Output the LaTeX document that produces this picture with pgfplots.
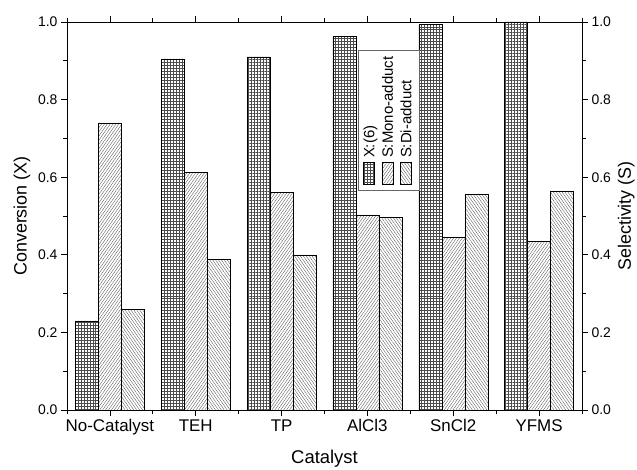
\documentclass[border=0pt]{standalone}
\usepackage{pgfplots}
\pgfplotsset{compat=1.18}
\usepackage{fontspec}
\setmainfont{Liberation Sans}
\usetikzlibrary{patterns.meta}

\pgfplotstableread{
x conv mono di
0 0.230 0.740 0.260
1 0.905 0.612 0.388
2 0.910 0.560 0.400
3 0.962 0.503 0.497
4 0.993 0.445 0.555
5 1.000 0.435 0.565
}\datatable

\tikzset{
  patX/.style={pattern={Hatch[distance=3pt, line width=0.3pt]}, pattern color=black!70},
  patM/.style={pattern={Lines[angle=55, distance=2.4pt, line width=0.3pt]}, pattern color=black!75},
  patD/.style={pattern={Lines[angle=-55, distance=2.4pt, line width=0.3pt]}, pattern color=black!75},
}
\newcommand\swatch[1]{\tikz[baseline=-0.7ex]\draw[line width=0.5pt,#1] (0bp,-5.5bp) rectangle (22bp,5.5bp);}

\begin{document}
\begin{tikzpicture}
\pgfplotsset{
  common/.style={
    scale only axis, width=515bp, height=388bp,
    xmin=-0.5, xmax=5.5, ymin=0, ymax=1,
    ytick={0,0.2,0.4,0.6,0.8,1.0},
    minor ytick={0.1,0.3,0.5,0.7,0.9},
    tick align=outside,
    major tick length=6bp, minor tick length=4bp,
    axis line style={line width=0.9pt},
    every tick/.style={black, line width=0.8pt},
    /pgf/number format/assume math mode=true,
    /pgf/number format/.cd, fixed, fixed zerofill, precision=1, /pgfplots/.cd,
    yticklabel style={font=\fontsize{14}{16}\selectfont},
    ylabel style={font=\fontsize{18}{21}\selectfont},
  }
}
\begin{axis}[common,
  ybar=0pt, bar width=23bp,
  xtick={0,1,2,3,4,5},
  xticklabels={No-Catalyst,TEH,TP,AlCl3,SnCl2,YFMS},
  minor xtick={-0.5,0.5,1.5,2.5,3.5,4.5,5.5},
  ytick pos=left, xtick pos=both,
  xticklabel style={font=\fontsize{17}{20}\selectfont},
  xlabel={Catalyst},
  xlabel style={font=\fontsize{18.5}{21}\selectfont, yshift=-8bp},
  ylabel={Conversion (X)},
  ylabel style={yshift=1bp},
]
\addplot[draw=black, line width=0.5pt, patX] table[x=x, y=conv] {\datatable};
\addplot[draw=black, line width=0.5pt, patM] table[x=x, y=mono] {\datatable};
\addplot[draw=black, line width=0.5pt, patD] table[x=x, y=di] {\datatable};
\node[rotate=90, draw=black!60, line width=0.6pt, fill=white, inner xsep=6bp, inner ysep=3bp,
      font=\fontsize{15}{18.5}\selectfont, align=left]
  at (axis cs:3.253,0.746)
  {\begin{tabular}{@{}l@{}}
   \swatch{patX}\hspace{4bp}X:(6)\\
   \swatch{patM}\hspace{4bp}S:Mono-adduct\\
   \swatch{patD}\hspace{4bp}S:Di-adduct
   \end{tabular}};
\end{axis}
\begin{axis}[common,
  hide x axis,
  axis y line*=right,
  ylabel={Selectivity (S)},
]
\addplot[draw=none] coordinates {(0,0)};
\end{axis}
\pgfresetboundingbox
\path ([xshift=-67bp,yshift=-59bp]current axis.south west) rectangle ([xshift=55bp,yshift=22bp]current axis.north east);
\end{tikzpicture}
\end{document}
